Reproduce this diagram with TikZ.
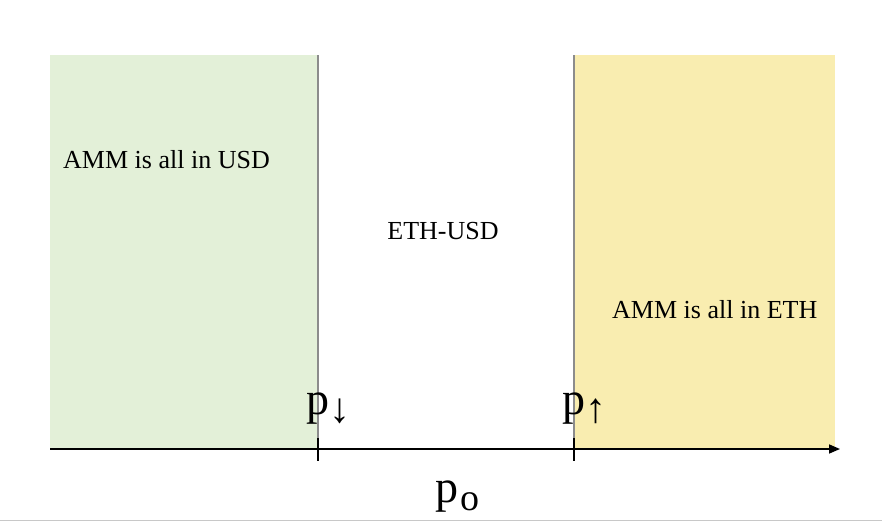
\documentclass[tikz,border=0pt]{standalone}
\usepackage{fontspec}
\setmainfont{Liberation Serif}
\usetikzlibrary{arrows.meta}
\definecolor{lgreen}{RGB}{227,240,216}
\definecolor{lyellow}{RGB}{249,237,176}
\definecolor{divgrey}{RGB}{140,140,140}
\definecolor{edgegrey}{RGB}{200,200,200}
\tikzset{
  divider/.style={draw=divgrey, line width=1.2pt},
  axisline/.style={draw=black, line width=1.6pt, -{Triangle[length=11pt,width=9pt]}},
  tickmark/.style={draw=black, line width=1.6pt},
  lbl/.style={font=\fontsize{26}{30}\selectfont, inner sep=0pt},
  plbl/.style={font=\fontsize{46}{50}\selectfont, inner sep=0pt, anchor=base west},
}
\newcommand{\arrsub}[1]{\raisebox{-8pt}{\fontsize{42}{44}\selectfont #1}}
\begin{document}
\begin{tikzpicture}[x=1pt,y=-1pt]
\useasboundingbox (0,0) rectangle (882,527);
\fill[white] (0,0) rectangle (882,527);
\fill[lgreen] (50,55) rectangle (318,449);
\fill[lyellow] (574,55) rectangle (835,449);
\coordinate (d1t) at (318,55); \coordinate (d1b) at (318,449);
\coordinate (d2t) at (574,55); \coordinate (d2b) at (574,449);
\draw[divider] (d1t) -- (d1b);
\draw[divider] (d2t) -- (d2b);
\coordinate (ax0) at (50,449); \coordinate (ax1) at (840,449);
\draw[axisline] (ax0) -- (ax1);
\coordinate (t1a) at (318,438); \coordinate (t1b) at (318,461);
\coordinate (t2a) at (574,438); \coordinate (t2b) at (574,461);
\draw[tickmark] (t1a) -- (t1b);
\draw[tickmark] (t2a) -- (t2b);
\coordinate (bl0) at (0,520); \coordinate (bl1) at (882,520);
\draw[draw=edgegrey, line width=1pt] (bl0) -- (bl1);
\node[lbl, anchor=west] (usd) at (63,160) {AMM is all in USD};
\node[lbl] (ethusd) at (443,231) {ETH-USD};
\node[lbl, anchor=west] (eth) at (612,310) {AMM is all in ETH};
\node[plbl] (pdown) at (306,414) {p\arrsub{↓}};
\node[plbl] (pup) at (562,414) {p\arrsub{↑}};
\node[plbl] (po) at (435,502) {p\kern2pt\raisebox{-8pt}{\fontsize{38}{40}\selectfont o}};
\end{tikzpicture}
\end{document}
